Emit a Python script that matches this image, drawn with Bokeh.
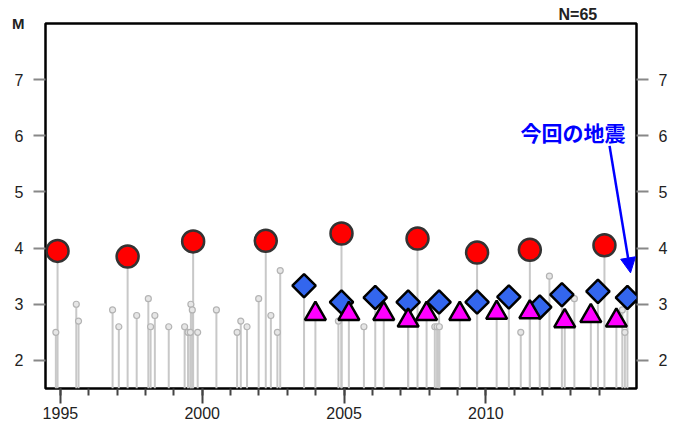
import numpy as np
from bokeh.plotting import figure
from bokeh.models import (FixedTicker, LinearAxis, Label, Arrow, NormalHead, Range1d)
from bokeh.embed import file_html
from bokeh.resources import INLINE

# ---- data (decimal year, magnitude) ----
small_t = [1994.84, 1995.56, 1995.64, 1996.84, 1997.06, 1997.69, 1998.10, 1998.18, 1998.33,
           1998.82, 1999.38, 1999.50, 1999.58, 1999.60, 1999.65, 1999.84, 2000.50, 2001.23,
           2001.36, 2001.58, 2001.99, 2002.42, 2002.65, 2002.75, 2004.80, 2005.70, 2008.20,
           2008.28, 2008.36, 2011.23, 2012.24, 2013.12, 2014.81, 2014.90]
small_m = [2.5, 3.0, 2.7, 2.9, 2.6, 2.8, 3.1, 2.6, 2.8,
           2.6, 2.6, 2.5, 2.5, 3.0, 2.9, 2.5, 2.9, 2.5,
           2.7, 2.6, 3.1, 2.8, 2.5, 3.6, 2.7, 2.6, 2.6,
           2.6, 2.6, 2.5, 3.5, 3.1, 2.9, 2.5]

red_t = [1994.90, 1997.37, 1999.68, 2002.24, 2004.91, 2007.59, 2009.69, 2011.55, 2014.18]
red_m = [3.95, 3.85, 4.12, 4.13, 4.26, 4.17, 3.92, 3.97, 4.05]

dia_t = [2003.59, 2004.91, 2006.10, 2007.26, 2008.35, 2009.69, 2010.81, 2011.90, 2012.68, 2013.95, 2014.99]
dia_m = [3.33, 3.04, 3.12, 3.04, 3.04, 3.04, 3.13, 2.95, 3.17, 3.23, 3.12]

tri_t = [2003.99, 2005.17, 2006.40, 2007.26, 2007.91, 2009.08, 2010.38, 2011.55, 2012.78, 2013.70, 2014.60]
tri_m = [2.83, 2.83, 2.83, 2.71, 2.83, 2.83, 2.85, 2.86, 2.70, 2.79, 2.71]

y_ticks = [2, 3, 4, 5, 6, 7]
x_major = [1995, 2000, 2005, 2010]
x_minor = list(range(1995, 2015))
n_label = "N=65"
y_label = "M"
note_text = "今回の地震"

Y0 = 1.5
TF = "Liberation Sans"

p = figure(width=670, height=421, output_backend="svg", toolbar_location=None,
           x_range=Range1d(1994.475, 2015.31), y_range=Range1d(Y0, 8.0),
           min_border_left=45, min_border_right=30, min_border_top=23, min_border_bottom=33)
p.background_fill_color = "white"
p.border_fill_color = "white"
p.outline_line_color = "black"
p.outline_line_width = 2.5
p.xgrid.visible = False
p.ygrid.visible = False

# "N=65" as the title above the frame
p.title.text = n_label
p.title.align = "left"
p.title.offset = 513
p.title.standoff = 2
p.title.text_font = TF
p.title.text_font_size = "16px"
p.title.text_font_style = "bold"
p.title.text_color = "#222222"

# stems
all_t = small_t + red_t + dia_t + tri_t
all_m = small_m + red_m + dia_m + tri_m
p.segment(x0=all_t, y0=[Y0] * len(all_t), x1=all_t, y1=all_m, line_color="#c8c8c8", line_width=2)
p.scatter(x=small_t, y=small_m, size=6, marker="circle", fill_color="#e6e6e6",
          line_color="#b4b4b4", line_width=1.2)

p.scatter(x=red_t, y=red_m, size=22, marker="circle", fill_color="#ff0000",
          line_color="#333333", line_width=2.5)
p.scatter(x=dia_t, y=dia_m, size=16.5, marker="square", angle=np.pi / 4,
          fill_color="#3366ee", line_color="black", line_width=2.5)
p.scatter(x=tri_t, y=tri_m, size=21, marker="triangle", fill_color="#ff00ff",
          line_color="black", line_width=2.5)

# axes
p.xaxis.ticker = FixedTicker(ticks=x_major, minor_ticks=x_minor)
p.xaxis.axis_line_color = None
p.xaxis.major_tick_in = 0
p.xaxis.major_tick_out = 15
p.xaxis.minor_tick_in = 0
p.xaxis.minor_tick_out = 7
p.xaxis.major_tick_line_color = "#444444"
p.xaxis.minor_tick_line_color = "#444444"
p.xaxis.major_tick_line_width = 2
p.xaxis.minor_tick_line_width = 2
p.xaxis.major_label_standoff = 3
p.xaxis.major_label_text_font = TF
p.xaxis.major_label_text_font_size = "16px"
p.xaxis.major_label_text_color = "#222222"

right = LinearAxis()
p.add_layout(right, "right")
for ax in [p.yaxis[0], right]:
    ax.ticker = FixedTicker(ticks=y_ticks)
    ax.axis_line_color = None
    ax.major_tick_in = 0
    ax.major_tick_out = 12
    ax.minor_tick_line_color = None
    ax.major_tick_line_color = "#888888"
    ax.major_tick_line_width = 2
    ax.major_label_standoff = 10
    ax.major_label_text_font = TF
    ax.major_label_text_font_size = "16px"
    ax.major_label_text_color = "#222222"

left = p.yaxis[0]
left.axis_label = y_label
left.axis_label_orientation = "horizontal"
left.axis_label_align = "end"
left.axis_label_standoff = -13
left.axis_label_text_font = TF
left.axis_label_text_font_size = "15px"
left.axis_label_text_font_style = "bold"
left.axis_label_text_color = "#222222"

p.add_layout(Label(x=2014.92, y=6.07, text=note_text, text_align="right", text_baseline="middle",
                   text_font="Noto Sans CJK JP", text_font_size="21px", text_font_style="bold",
                   text_color="#0000ff"))
p.add_layout(Arrow(x_start=2014.36, y_start=5.82, x_end=2015.1, y_end=3.56,
                   line_color="#0000ff", line_width=2.5,
                   end=NormalHead(size=15, fill_color="#0000ff", line_color="#0000ff")))

open("out.html", "w").write(file_html(p, INLINE))
